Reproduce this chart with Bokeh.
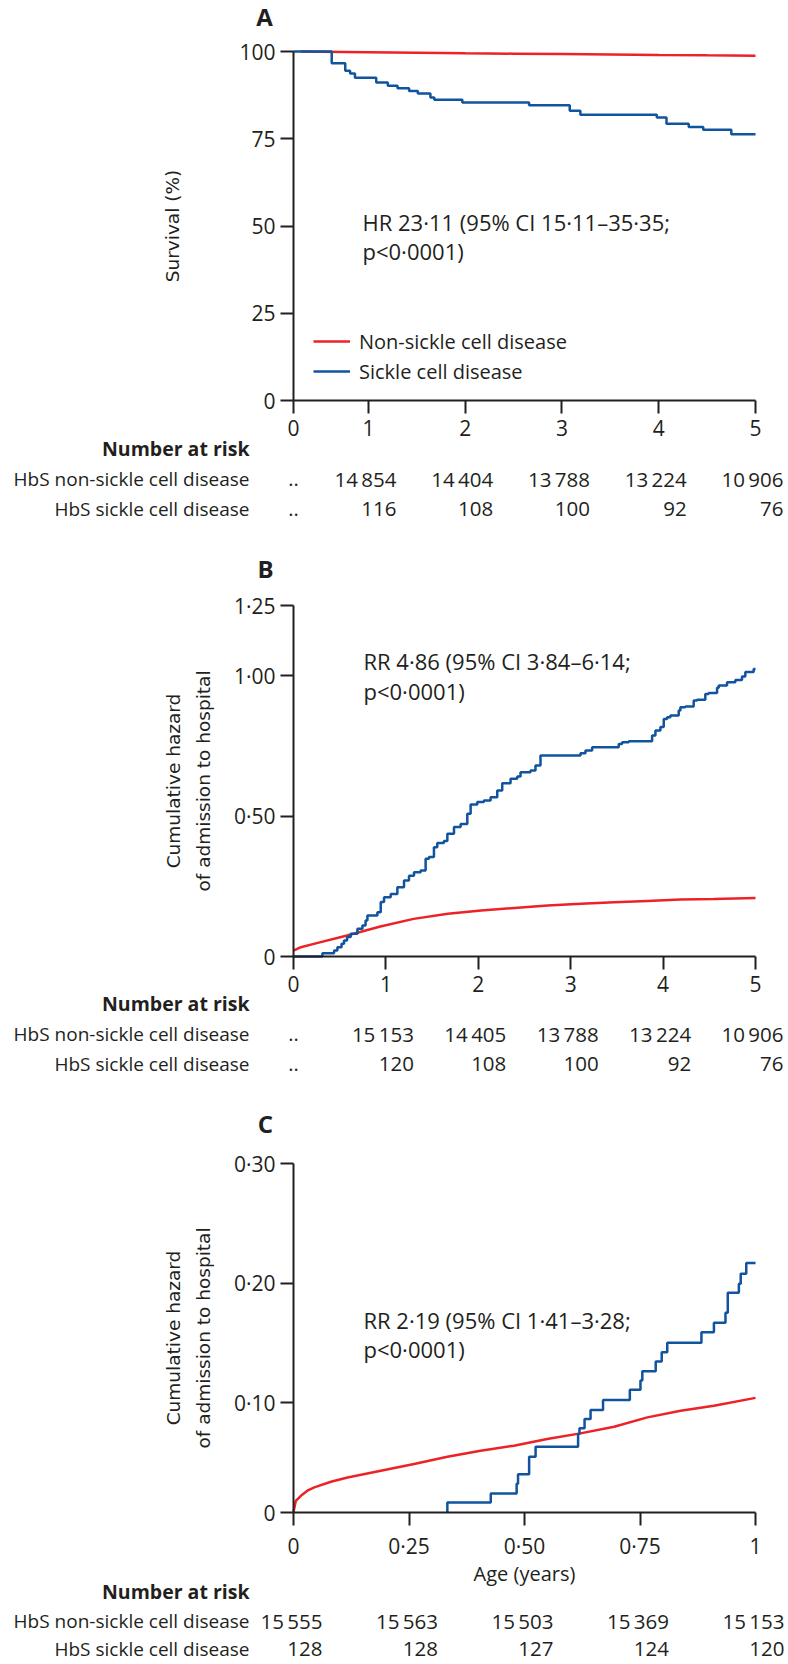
from bokeh.plotting import figure
from bokeh.models import Range1d, FixedTicker, Label, Legend, LegendItem
from bokeh.layouts import column
from bokeh.embed import file_html
from bokeh.resources import INLINE

RED = "#ec2227"
BLUE = "#10539f"
INK = "#231f20"
FONT = "Open Sans"
YFONT = "DejaVu Sans"
W = 788

# ---------------- Panel A : survival (%) ----------------
a_x_start = 0.225
a_x_ticks = [1, 2, 3, 4, 5]
a_y_ticks = [0, 25, 50, 75, 100]
a_red_t = [0.3, 0.5, 1.0, 1.5, 2.0, 2.5, 3.0, 3.5, 4.0, 4.5, 5.0]
a_red_s = [100.0, 99.95, 99.8, 99.65, 99.5, 99.38, 99.25, 99.15, 99.02, 98.9, 98.8]
a_blue_t = [0.225, 0.62, 0.76, 0.81, 0.86, 1.08, 1.20, 1.30, 1.42, 1.51, 1.64, 1.68,
            1.97, 2.66, 3.08, 3.19, 3.98, 4.08, 4.31, 4.46, 4.75, 5.0]
a_blue_s = [100.0, 96.6, 94.5, 93.7, 92.5, 91.1, 90.2, 89.5, 88.7, 88.0, 86.8, 86.2,
            85.4, 84.6, 83.0, 81.9, 81.1, 79.3, 78.4, 77.6, 76.3, 76.3]
a_risk_non = [14854, 14404, 13788, 13224, 10906]
a_risk_scd = [116, 108, 100, 92, 76]

# ---------------- Panel B : cumulative hazard, 0-5 years ----------------
b_x_ticks = [0, 1, 2, 3, 4, 5]
b_y_ticks = [0, 0.5, 1.0, 1.25]
b_red_t = [0, 0.08, 0.22, 0.58, 0.94, 1.30, 1.67, 2.03, 2.39, 2.75, 3.11, 3.47, 3.83, 4.19, 4.55, 5.0]
b_red_v = [0.021, 0.033, 0.045, 0.075, 0.107, 0.134, 0.152, 0.164, 0.173, 0.182, 0.188,
           0.193, 0.198, 0.203, 0.205, 0.208]
b_blue_t = [0, 0.313, 0.439, 0.475, 0.52, 0.547, 0.58, 0.619, 0.692, 0.746, 0.78, 0.800,
            0.908, 0.944, 0.980, 1.052, 1.124, 1.196, 1.250, 1.304, 1.376, 1.430, 1.466,
            1.520, 1.556, 1.628, 1.665, 1.737, 1.809, 1.881, 1.917, 1.989, 2.061, 2.133,
            2.205, 2.259, 2.349, 2.421, 2.457, 2.565, 2.619, 2.673, 3.106, 3.160, 3.232,
            3.520, 3.556, 3.628, 3.881, 3.917, 3.971, 4.007, 4.043, 4.079, 4.169, 4.187,
            4.241, 4.331, 4.367, 4.457, 4.493, 4.584, 4.602, 4.692, 4.782, 4.854, 4.890,
            4.980, 5.0]
b_blue_v = [0.0, 0.012, 0.021, 0.033, 0.045, 0.057, 0.069, 0.081, 0.099, 0.110, 0.128, 0.146,
            0.158, 0.194, 0.211, 0.223, 0.247, 0.271, 0.288, 0.300, 0.306, 0.348, 0.354,
            0.389, 0.404, 0.411, 0.437, 0.461, 0.472, 0.508, 0.541, 0.550, 0.556, 0.567,
            0.591, 0.617, 0.633, 0.641, 0.656, 0.662, 0.680, 0.716, 0.724, 0.734, 0.745,
            0.757, 0.763, 0.767, 0.787, 0.805, 0.817, 0.846, 0.852, 0.858, 0.876, 0.888,
            0.890, 0.912, 0.914, 0.935, 0.938, 0.957, 0.965, 0.977, 0.985, 0.997, 1.013,
            1.024, 1.024]
b_risk_non = [15153, 14405, 13788, 13224, 10906]
b_risk_scd = [120, 108, 100, 92, 76]

# ---------------- Panel C : cumulative hazard, first year ----------------
c_x_ticks = [0, 0.25, 0.5, 0.75, 1.0]
c_y_start = 0.008
c_y_ticks = [0.1, 0.2, 0.3]
c_red_t = [0, 0.005, 0.016, 0.030, 0.045, 0.081, 0.117, 0.189, 0.261, 0.333, 0.405, 0.477,
           0.549, 0.621, 0.694, 0.766, 0.838, 0.910, 1.0]
c_red_v = [0.0085, 0.0178, 0.0220, 0.0262, 0.0290, 0.0337, 0.0373, 0.0429, 0.0485, 0.0547,
           0.0597, 0.0639, 0.0695, 0.0742, 0.0798, 0.0876, 0.0932, 0.0974, 0.1039]
c_blue_t = [0.333, 0.333, 0.427, 0.483, 0.486, 0.510, 0.524, 0.616, 0.619, 0.630, 0.643, 0.670,
            0.728, 0.751, 0.755, 0.784, 0.797, 0.809, 0.883, 0.910, 0.935, 0.940, 0.964,
            0.968, 0.980, 1.0]
c_blue_v = [0.008, 0.0164, 0.0239, 0.0320, 0.0401, 0.0547, 0.0630, 0.0737, 0.0784, 0.0863,
            0.0938, 0.1022, 0.1106, 0.1184, 0.1262, 0.1343, 0.1421, 0.1500, 0.1589, 0.1667,
            0.1751, 0.1919, 0.1994, 0.2078, 0.2167, 0.2167]
c_risk_non = [15555, 15563, 15503, 15369, 15153]
c_risk_scd = [128, 128, 127, 124, 120]

ROW_LABELS = ["HbS non-sickle cell disease", "HbS sickle cell disease"]


def fmt_num(n):
    s = str(n)
    if len(s) >= 5:
        s = s[:-3] + "\u2009" + s[-3:]
    return s


def dec(v):
    return ("%.2f" % v).replace(".", "\u00b7")


def add_label(p, x, y, text, xo=0, yo=0, size="20px", align="left", baseline="middle",
              font=FONT, style="normal", angle=0):
    p.add_layout(Label(x=x, y=y, x_units="data", y_units="data", text=text,
                       x_offset=xo, y_offset=yo, text_font=font, text_font_size=size,
                       text_font_style=style, text_align=align, text_baseline=baseline,
                       text_color=INK, angle=angle, angle_units="deg"))


def make_fig(height, box, xr, yr, x_ticks, y_ticks):
    """box = (left, right, top, bottom) of the plotting area in canvas pixels."""
    left, right, top, bottom = box
    ppx = (right - left) / (xr[1] - xr[0])
    ppy = (bottom - top) / (yr[1] - yr[0])
    x_range = Range1d(xr[0] - left / ppx, xr[1] + (W - right) / ppx)
    y_range = Range1d(yr[0] - (height - bottom) / ppy, yr[1] + top / ppy)
    p = figure(width=W, height=height, x_range=x_range, y_range=y_range,
               output_backend="svg", toolbar_location=None,
               min_border=0, min_border_left=0, min_border_right=0,
               min_border_top=0, min_border_bottom=0)
    p.outline_line_color = None
    p.xgrid.visible = False
    p.ygrid.visible = False
    p.background_fill_color = "white"
    p.border_fill_color = "white"
    xa, ya = p.xaxis[0], p.yaxis[0]
    xa.fixed_location = yr[0]
    ya.fixed_location = xr[0]
    xa.bounds = xr
    ya.bounds = yr
    xa.ticker = FixedTicker(ticks=x_ticks)
    ya.ticker = FixedTicker(ticks=y_ticks)
    for ax in (xa, ya):
        ax.axis_line_width = 2
        ax.axis_line_color = INK
        ax.major_tick_line_width = 2
        ax.major_tick_line_color = INK
        ax.major_tick_out = 13
        ax.major_tick_in = 0
        ax.minor_tick_line_color = None
        ax.major_label_text_font = FONT
        ax.major_label_text_font_size = "21px"
        ax.major_label_text_color = INK
    xa.major_label_standoff = 6
    ya.major_label_standoff = 5
    return p


def add_risk_table(p, x0, y0, ticks, non, scd, dy, dots, num_xo=28):
    add_label(p, x0, y0, "Number at risk", xo=-44, yo=-dy[0], align="right",
              size="19.5px", style="bold")
    for row, (name, vals) in enumerate(zip(ROW_LABELS, (non, scd))):
        yo = -dy[row + 1]
        add_label(p, x0, y0, name, xo=-44, yo=yo, align="right", size="19px")
        if dots:
            add_label(p, x0, y0, "..", yo=yo, align="center", size="20px")
        for t, v in zip(ticks, vals):
            add_label(p, t, y0, fmt_num(v), xo=num_xo, yo=yo, align="right", size="20.5px")


# ---------- Panel A ----------
HA = 530
pa = make_fig(HA, (293, 755, 51, 400), (a_x_start, 5), (0, 100),
              [a_x_start] + a_x_ticks, a_y_ticks)
pa.xaxis[0].major_label_overrides = {a_x_start: "0"}
ra = pa.line(a_red_t, a_red_s, line_color=RED, line_width=2.5)
ba = pa.step(a_blue_t, a_blue_s, mode="after", line_color=BLUE, line_width=2.5)
pa.add_layout(Legend(items=[LegendItem(label="Non-sickle cell disease", renderers=[ra]),
                            LegendItem(label="Sickle cell disease", renderers=[ba])],
                     location=(313, HA - 386), glyph_width=37, glyph_height=30,
                     label_height=30, label_standoff=9, spacing=0, padding=0, margin=0,
                     border_line_color=None, background_fill_alpha=0,
                     label_text_font=FONT, label_text_font_size="20px",
                     label_text_color=INK))
add_label(pa, a_x_start, 100, "A", xo=-29, yo=35, align="center", size="24px", style="bold")
add_label(pa, a_x_start, 50, "Survival (%)", xo=-121, align="center", font=YFONT,
          size="18.5px", angle=90)
add_label(pa, a_x_start, 100, "HR 23\u00b711 (95% CI 15\u00b711\u201335\u00b735;", xo=69, yo=-170, size="22px")
add_label(pa, a_x_start, 100, "p<0\u00b70001)", xo=69, yo=-199, size="22px")
add_risk_table(pa, a_x_start, 0, a_x_ticks, a_risk_non, a_risk_scd, (48, 78, 108), True)

# ---------- Panel B ----------
HB = 560
pb = make_fig(HB, (293, 755, 75, 426), (0, 5), (0, 1.25), b_x_ticks, b_y_ticks)
pb.yaxis[0].major_label_overrides = {t: ("0" if t == 0 else dec(t)) for t in b_y_ticks}
pb.line(b_red_t, b_red_v, line_color=RED, line_width=2.5)
pb.step(b_blue_t, b_blue_v, mode="after", line_color=BLUE, line_width=2.5)
add_label(pb, 0, 1.25, "B", xo=-28, yo=37, align="center", size="24px", style="bold")
add_label(pb, 0, 0.625, "Cumulative hazard", xo=-120, align="center", font=YFONT,
          size="18.5px", angle=90)
add_label(pb, 0, 0.625, "of admission to hospital", xo=-90, align="center", font=YFONT,
          size="18.5px", angle=90)
add_label(pb, 0, 1.25, "RR 4\u00b786 (95% CI 3\u00b784\u20136\u00b714;", xo=70, yo=-55, size="22px")
add_label(pb, 0, 1.25, "p<0\u00b70001)", xo=70, yo=-85, size="22px")
add_risk_table(pb, 0, 0, b_x_ticks[1:], b_risk_non, b_risk_scd, (47, 77, 107), True)

# ---------- Panel C ----------
HC = 574
pc = make_fig(HC, (293, 755, 73, 422), (0, 1), (c_y_start, 0.3), c_x_ticks,
              [c_y_start] + c_y_ticks)
pc.xaxis[0].major_label_overrides = {0: "0", 0.25: dec(0.25), 0.5: dec(0.5),
                                     0.75: dec(0.75), 1.0: "1"}
ov = {c_y_start: "0"}
ov.update({t: dec(t) for t in c_y_ticks})
pc.yaxis[0].major_label_overrides = ov
pc.line(c_red_t, c_red_v, line_color=RED, line_width=2.5)
pc.step(c_blue_t, c_blue_v, mode="after", line_color=BLUE, line_width=2.5)
add_label(pc, 0, 0.3, "C", xo=-28, yo=40, align="center", size="24px", style="bold")
ymid = (c_y_start + 0.3) / 2
add_label(pc, 0, ymid, "Cumulative hazard", xo=-120, align="center", font=YFONT,
          size="18.5px", angle=90)
add_label(pc, 0, ymid, "of admission to hospital", xo=-90, align="center", font=YFONT,
          size="18.5px", angle=90)
add_label(pc, 0, 0.3, "RR 2\u00b719 (95% CI 1\u00b741\u20133\u00b728;", xo=70, yo=-156, size="22px")
add_label(pc, 0, 0.3, "p<0\u00b70001)", xo=70, yo=-185, size="22px")
add_label(pc, 0.5, c_y_start, "Age (years)", yo=-61, align="center", size="20px")
add_risk_table(pc, 0, c_y_start, c_x_ticks, c_risk_non, c_risk_scd, (79, 108, 136), False,
               num_xo=29)

layout = column(pa, pb, pc, spacing=0)
open("out.html", "w").write(file_html(layout, INLINE))
